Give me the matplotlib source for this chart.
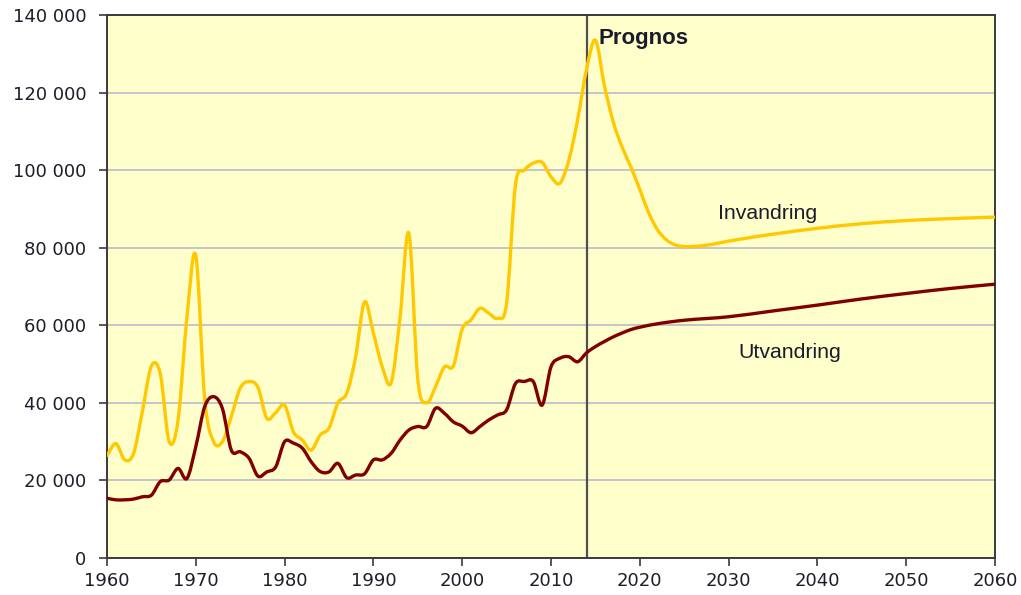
import matplotlib
matplotlib.use("Agg")
import matplotlib.pyplot as plt
from matplotlib.path import Path
from matplotlib.patches import PathPatch
from matplotlib.ticker import FuncFormatter

# ---- data -------------------------------------------------------------
inv_years = list(range(1960, 2027)) + [2028, 2030, 2035, 2040, 2045, 2050, 2055, 2060]
invandring = [26500, 29500, 25300, 27000, 38000, 49500, 47500, 30000, 35500, 62000,
              78000, 41000, 30000, 30000, 36500, 43800, 45500, 44000, 36000, 37500,
              39400, 32500, 30400, 27800, 31700, 33500, 40000, 42500, 51900, 66000,
              58000, 49300, 45200, 62000, 83700, 46000, 40000, 44200, 49300, 49500,
              59000, 61400, 64400, 63100, 61800, 65700, 96200, 100000, 101800, 102000,
              98300, 96600, 102500, 113000, 126000, 133500, 122000, 112500, 106000, 100800,
              95000, 89000, 84600, 82000, 80700, 80300, 80300,
              80800, 81700, 83500, 85000, 86200, 87000, 87500, 87900]

utv_years = list(range(1960, 2021)) + [2022, 2025, 2030, 2035, 2040, 2045, 2050, 2055, 2060]
utvandring = [15400, 15000, 15000, 15200, 15800, 16200, 19700, 20100, 23100, 20500,
              28700, 39000, 41600, 38500, 27800, 27400, 25700, 21100, 22200, 23500,
              30000, 29600, 28300, 24800, 22300, 22200, 24400, 20700, 21400, 21700,
              25300, 25300, 27000, 30400, 33000, 33900, 33900, 38600, 37300, 35100,
              34000, 32300, 33900, 35600, 36900, 38200, 45000, 45500, 45500, 39400,
              49300, 51500, 51900, 50600, 52900, 54500, 55800, 57000, 58000, 58900,
              59500, 60400, 61300, 62200, 63700, 65200, 66800, 68200, 69500, 70600]

prognos_year = 2014
x_ticks = list(range(1960, 2061, 10))
y_ticks = list(range(0, 140001, 20000))

# ---- helpers ----------------------------------------------------------
def smooth_path(xs, ys):
    """Cubic Bezier (Hermite, Catmull-Rom tangents) through the data points."""
    n = len(xs)
    m = []
    for i in range(n):
        a = max(i - 1, 0)
        b = min(i + 1, n - 1)
        m.append((ys[b] - ys[a]) / (xs[b] - xs[a]))
    verts = [(xs[0], ys[0])]
    codes = [Path.MOVETO]
    for i in range(n - 1):
        h = xs[i + 1] - xs[i]
        c1 = (xs[i] + h / 3.0, ys[i] + m[i] * h / 3.0)
        c2 = (xs[i + 1] - h / 3.0, ys[i + 1] - m[i + 1] * h / 3.0)
        verts += [c1, c2, (xs[i + 1], ys[i + 1])]
        codes += [Path.CURVE4] * 3
    return Path(verts, codes)

# ---- figure -----------------------------------------------------------
plt.rcParams['font.family'] = ['Liberation Sans', 'DejaVu Sans']
fig = plt.figure(figsize=(10.21, 5.95), dpi=100)
ax = fig.add_axes([107 / 1021, 1 - 558 / 595, (995 - 107) / 1021, (558 - 15) / 595])
ax.set_facecolor('#FFFFCC')

ax.set_xlim(1960, 2060)
ax.set_ylim(0, 140000)
ax.set_xticks(x_ticks)
ax.set_yticks(y_ticks)
ax.yaxis.set_major_formatter(FuncFormatter(lambda v, p: f"{int(v):,}".replace(",", " ")))

ax.grid(axis='y', color='#B9BBCB', linewidth=1.2, zorder=0)
ax.set_axisbelow(True)

for s in ax.spines.values():
    s.set_color('#3A3A3A')
    s.set_linewidth(1.4)

ax.tick_params(axis='both', direction='out', length=6, width=1.2, color='#3A3A3A',
               labelsize=13, labelcolor='#1E1E2A')
ax.tick_params(axis='y', pad=9)
ax.tick_params(axis='x', pad=4)
for lab in ax.get_xticklabels() + ax.get_yticklabels():
    lab.set_fontfamily('DejaVu Sans')

ax.axvline(prognos_year, color='#505050', linewidth=1.6, zorder=2)

ax.add_patch(PathPatch(smooth_path(inv_years, invandring), fill=False,
                       edgecolor='#FFC800', linewidth=2.4, capstyle='round',
                       joinstyle='round', zorder=3))
ax.add_patch(PathPatch(smooth_path(utv_years, utvandring), fill=False,
                       edgecolor='#800000', linewidth=2.4, capstyle='round',
                       joinstyle='round', zorder=4))

ax.text(2015.3, 134000, 'Prognos', fontsize=16, fontweight='bold',
        color='#1A1A2A', ha='left', va='center', zorder=5)
ax.text(2034.4, 88700, 'Invandring', fontsize=15.3, color='#1A1A2A',
        ha='center', va='center', zorder=5)
ax.text(2036.9, 53000, 'Utvandring', fontsize=15.3, color='#1A1A2A',
        ha='center', va='center', zorder=5)

fig.savefig('out.png', dpi=100)
